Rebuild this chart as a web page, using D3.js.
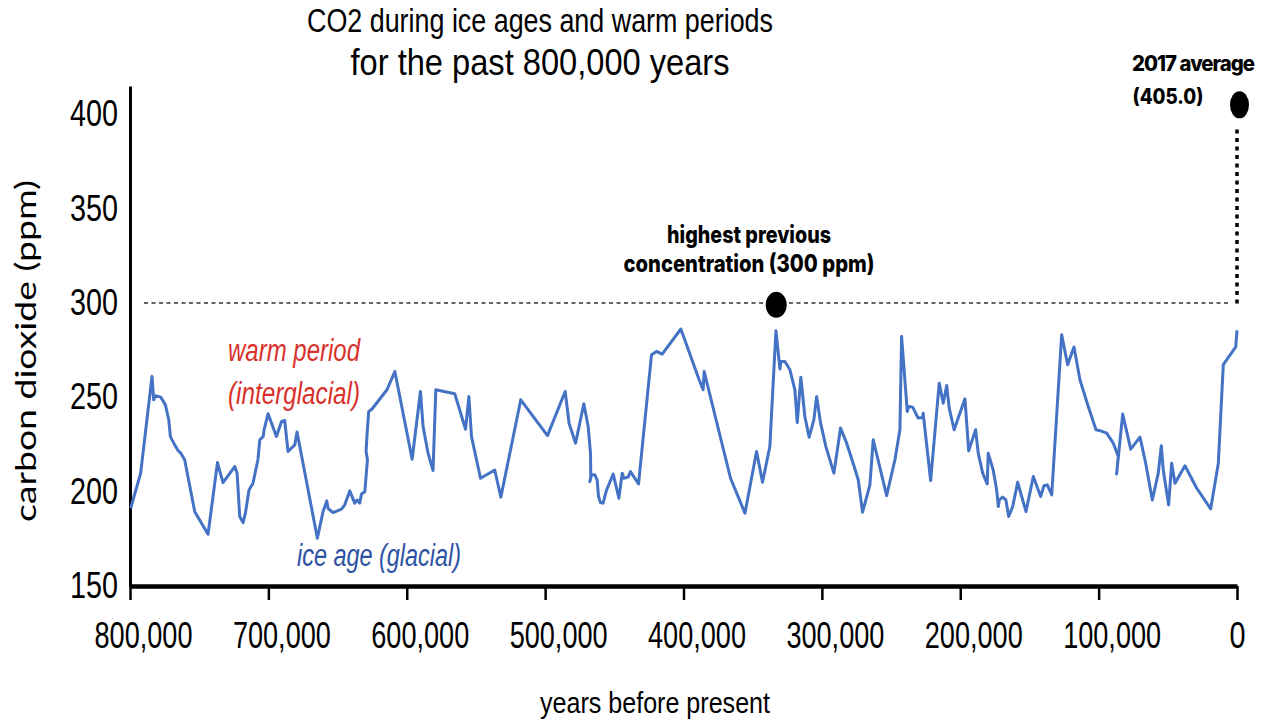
<!DOCTYPE html>
<html>
<head>
<meta charset="utf-8">
<script src="https://cdnjs.cloudflare.com/ajax/libs/d3/7.8.5/d3.min.js"></script>
<style>
  body { margin: 0; background: #fff; }
  .narrow { font-family: "Liberation Sans Narrow", "Liberation Sans", "Open Sans", sans-serif; }
  .bold { font-family: "Inter", "Noto Sans", sans-serif; font-weight: 800; }
</style>
</head>
<body>
<div class="chart"></div>
<script>
// thousands of years before present
var yearsK = [799.5, 792.3, 784.1, 782.9, 781.6, 777.8, 774.4, 772.0, 770.8, 767.7,
  765.3, 763.3, 760.5, 753.2, 743.6, 736.8, 732.8, 724.3, 722.6, 720.7,
  718.3, 716.6, 714.0, 711.1, 707.5, 706.2, 703.8, 703.1, 700.2, 694.2,
  690.5, 688.2, 685.8, 680.9, 679.3, 664.6, 660.5, 657.8, 656.9, 653.3,
  647.2, 644.8, 641.2, 637.6, 635.9, 634.0, 632.7, 630.3, 629.8, 628.4,
  629.4, 628.7, 627.5, 625.1, 614.3, 608.6, 596.1, 590.1, 588.2, 584.6,
  581.0, 579.0, 565.3, 557.5, 555.1, 553.2, 546.7, 536.4, 532.0, 517.6,
  498.3, 485.5, 482.7, 478.0, 472.0, 468.9, 467.2, 467.0, 467.7, 466.5,
  464.1, 462.4, 461.4, 460.0, 458.1, 455.6, 450.8, 446.7, 444.3, 443.1,
  440.0, 438.3, 432.5, 423.1, 419.5, 415.4, 401.9, 388.7, 385.8, 385.1,
  366.0, 355.6, 347.2, 342.9, 337.6, 333.2, 330.3, 329.6, 326.7, 323.1,
  319.5, 317.8, 315.2, 312.3, 309.2, 305.8, 303.8, 300.9, 297.1, 291.3,
  286.5, 282.1, 277.4, 273.7, 270.6, 265.3, 262.9, 253.2, 247.2, 243.6,
  242.4, 238.3, 237.3, 234.4, 230.4, 227.2, 226.8, 221.4, 215.2, 212.3,
  209.8, 208.0, 204.4, 196.6, 193.9, 188.9, 187.0, 183.8, 180.5, 179.8,
  176.2, 173.7, 172.5, 171.8, 169.4, 167.0, 165.0, 162.1, 158.5, 152.5,
  147.2, 141.9, 139.5, 137.1, 133.9, 126.7, 122.4, 117.8, 113.5, 107.5,
  101.9, 98.5, 94.2, 89.4, 85.8, 87.0, 82.6, 76.8, 70.1, 66.0,
  61.2, 56.9, 54.7, 53.3, 49.4, 47.2, 44.8, 37.6, 29.1, 19.0,
  13.5, 9.9, 0.9, 0];

// carbon dioxide, ppm
var co2 = [191.2, 209.8, 261.1, 248.7, 250.8, 250.1, 246.0, 238.1, 229.2, 224.8,
  221.8, 220.4, 216.9, 189.4, 177.4, 215.4, 204.8, 213.3, 209.8, 186.8,
  183.6, 188.6, 200.9, 204.5, 217.2, 227.5, 229.2, 232.8, 241.3, 229.2,
  237.2, 237.7, 221.3, 224.8, 231.6, 175.3, 189.4, 195.1, 191.2, 188.9,
  190.7, 193.0, 200.4, 193.9, 195.6, 193.9, 198.8, 200.0, 204.5, 216.9,
  221.3, 230.1, 242.5, 243.8, 254.0, 263.7, 217.2, 253.1, 234.5, 220.4,
  211.2, 254.0, 251.9, 233.1, 250.4, 229.2, 207.1, 211.5, 197.1, 248.7,
  229.7, 253.1, 236.3, 225.7, 246.6, 234.5, 220.4, 208.0, 205.3, 208.9,
  208.9, 206.2, 197.4, 194.2, 193.9, 200.9, 209.3, 196.5, 209.8, 207.1,
  207.7, 210.6, 204.1, 272.6, 274.3, 272.9, 286.2, 259.3, 254.0, 263.7,
  207.1, 188.6, 221.3, 205.0, 223.9, 285.3, 265.0, 269.0, 269.0, 264.6,
  254.0, 236.6, 260.7, 239.8, 228.9, 238.1, 250.4, 236.3, 223.9, 209.8,
  233.7, 225.7, 215.1, 206.2, 189.1, 203.6, 227.5, 197.9, 216.9, 232.8,
  282.3, 242.5, 245.1, 244.8, 239.0, 239.3, 241.6, 205.9, 257.5, 246.9,
  256.3, 244.3, 232.8, 249.2, 221.6, 232.8, 220.4, 209.8, 204.1, 220.4,
  211.5, 200.9, 192.1, 195.6, 197.1, 195.6, 186.8, 192.1, 205.0, 189.4,
  208.0, 197.4, 203.1, 203.6, 198.3, 283.2, 267.3, 276.7, 259.3, 245.1,
  232.8, 232.2, 231.0, 225.7, 218.6, 209.4, 241.1, 222.5, 228.9, 215.1,
  195.6, 209.8, 224.3, 211.5, 193.0, 215.1, 204.5, 213.7, 201.8, 190.9,
  215.1, 267.3, 276.7, 285.5];

var xTicks = [800000, 700000, 600000, 500000, 400000, 300000, 200000, 100000, 0];
var yTicks = [150, 200, 250, 300, 350, 400];

var previousMax = { years: 333000, ppm: 300 };
var latest = { years: 0, ppm: 405.0 };

var svgWidth = 1265;
var svgHeight = 723;

var svg = d3.select(".chart")
  .append("svg")
  .attr("width", svgWidth)
  .attr("height", svgHeight);

var data = yearsK.map((k, i) => ({ years: k * 1000, ppm: co2[i] }));

// scales
var xScale = d3.scaleLinear()
  .domain([800000, 0])
  .range([130, 1237]);

var yScale = d3.scaleLinear()
  .domain([150, 415])
  .range([586, 86]);

// titles
svg.append("text")
  .classed("narrow", true)
  .attr("x", 540).attr("y", 32)
  .attr("text-anchor", "middle")
  .attr("font-size", 33)
  .attr("textLength", 466).attr("lengthAdjust", "spacingAndGlyphs")
  .text("CO2 during ice ages and warm periods");

svg.append("text")
  .classed("narrow", true)
  .attr("x", 540).attr("y", 75)
  .attr("text-anchor", "middle")
  .attr("font-size", 37)
  .attr("textLength", 379).attr("lengthAdjust", "spacingAndGlyphs")
  .text("for the past 800,000 years");

// dashed reference line at 300 ppm
svg.append("line")
  .attr("x1", 144).attr("x2", 1229)
  .attr("y1", yScale(300)).attr("y2", yScale(300))
  .attr("stroke", "#333")
  .attr("stroke-width", 1.5)
  .attr("stroke-dasharray", "4,3.5");

// dotted line to 2017 value
svg.append("line")
  .attr("x1", xScale(0)).attr("x2", xScale(0))
  .attr("y1", yScale(392)).attr("y2", yScale(298))
  .attr("stroke", "#000")
  .attr("stroke-width", 3.5)
  .attr("stroke-dasharray", "4,4.5");

// x axis
var bottomAxis = d3.axisBottom(xScale)
  .tickValues(xTicks)
  .tickSize(14)
  .tickSizeOuter(0)
  .tickPadding(22)
  .tickFormat(d3.format(","));

var xAxis = svg.append("g")
  .attr("transform", `translate(0, ${yScale(150)})`)
  .call(bottomAxis);

xAxis.select(".domain").attr("stroke", "#000").attr("stroke-width", 4.5);
xAxis.selectAll(".tick line").attr("stroke", "#000").attr("stroke-width", 2.5);
xAxis.selectAll(".tick text")
  .attr("class", "narrow")
  .attr("font-size", 36)
  .attr("fill", "#000")
  .attr("dx", d => d === 0 ? 0 : 13)
  .attr("textLength", d => d === 0 ? 16 : 98)
  .attr("lengthAdjust", "spacingAndGlyphs");

// y axis
var leftAxis = d3.axisLeft(yScale)
  .tickValues(yTicks)
  .tickSize(0)
  .tickPadding(12);

var yAxis = svg.append("g")
  .attr("transform", `translate(${xScale(800000)}, 0)`)
  .call(leftAxis);

yAxis.select(".domain").attr("stroke", "#000").attr("stroke-width", 3);
yAxis.selectAll(".tick text")
  .attr("class", "narrow")
  .attr("font-size", 36)
  .attr("fill", "#000")
  .attr("textLength", 48)
  .attr("lengthAdjust", "spacingAndGlyphs");

// axis titles
svg.append("text")
  .attr("transform", "translate(36, 351) rotate(-90)")
  .attr("text-anchor", "middle")
  .attr("font-family", "Lato, sans-serif")
  .attr("font-size", 28)
  .attr("fill", "#000")
  .attr("textLength", 342).attr("lengthAdjust", "spacingAndGlyphs")
  .text("carbon dioxide (ppm)");

svg.append("text")
  .classed("narrow", true)
  .attr("x", 655).attr("y", 713)
  .attr("text-anchor", "middle")
  .attr("font-size", 30)
  .attr("textLength", 230).attr("lengthAdjust", "spacingAndGlyphs")
  .text("years before present");

// CO2 line
var line = d3.line()
  .x(d => xScale(d.years))
  .y(d => yScale(d.ppm));

svg.append("path")
  .datum(data)
  .attr("d", line)
  .attr("fill", "none")
  .attr("stroke", "#4472c4")
  .attr("stroke-width", 3)
  .attr("stroke-linejoin", "round");

// markers
svg.append("ellipse")
  .attr("cx", xScale(previousMax.years))
  .attr("cy", yScale(previousMax.ppm - 1))
  .attr("rx", 10.5).attr("ry", 13)
  .attr("fill", "#000");

svg.append("ellipse")
  .attr("cx", xScale(latest.years) + 2.5)
  .attr("cy", yScale(latest.ppm))
  .attr("rx", 9.5).attr("ry", 13.5)
  .attr("fill", "#000");

// annotations
function note(txt, x, y, size, len, cls, color, italic) {
  return svg.append("text")
    .attr("class", cls)
    .attr("x", x).attr("y", y)
    .attr("text-anchor", "middle")
    .attr("font-size", size)
    .attr("fill", color)
    .attr("font-style", italic ? "italic" : "normal")
    .attr("textLength", len).attr("lengthAdjust", "spacingAndGlyphs")
    .text(txt);
}

note("warm period", 294, 361, 31, 132, "narrow", "#d9312b", true);
note("(interglacial)", 294, 404, 31, 132, "narrow", "#d9312b", true);
note("ice age (glacial)", 379, 566, 31, 164, "narrow", "#2e52a3", true);

note("highest previous", 749, 243, 24, 164, "bold", "#000", false);
note("concentration (300 ppm)", 749, 272, 24, 251, "bold", "#000", false);

// the 2017 label sits against the right edge, so keep its natural width small
note("2017 average", 1193, 71, 21, 122, "bold", "#000", false)
  .attr("letter-spacing", -1);
note("(405.0)", 1168, 104, 21, 71, "bold", "#000", false);
</script>
</body>
</html>
